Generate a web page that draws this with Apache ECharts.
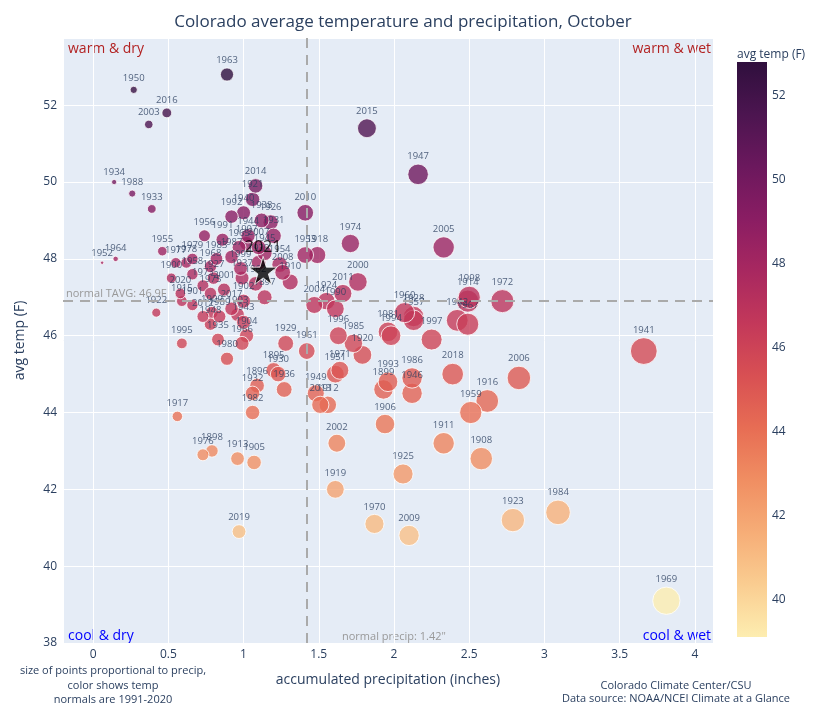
<!DOCTYPE html>
<html>
<head>
<meta charset="utf-8">
<script src="https://cdn.jsdelivr.net/npm/echarts@6/dist/echarts.min.js"></script>
<style>
  html, body { margin: 0; padding: 0; background: #fff; }
  #chart { width: 825px; height: 706px; }
</style>
</head>
<body>
<div id="chart"></div>
<script>
// October, Colorado: year, accumulated precip (in), avg temp (F)
var years = [1895,1896,1897,1898,1899,1900,1901,1902,1903,1904,1905,1906,1907,1908,1909,1910,
  1911,1912,1913,1914,1915,1916,1917,1918,1919,1920,1921,1922,1923,1924,1925,1926,1927,1928,1929,1930,
  1931,1932,1933,1934,1935,1936,1937,1938,1939,1940,1941,1942,1943,1944,1945,1946,1947,1948,1949,1950,
  1951,1952,1953,1954,1955,1956,1957,1958,1959,1960,1961,1962,1963,1964,1965,1966,1967,1968,1969,1970,
  1971,1972,1973,1974,1975,1976,1977,1978,1979,1980,1981,1982,1983,1984,1985,1986,1987,1988,1989,1990,
  1991,1992,1993,1994,1995,1996,1997,1998,1999,2000,2001,2002,2003,2004,2005,2006,2007,2008,2009,2010,
  2011,2012,2013,2014,2015,2016,2017,2018,2019,2020];
var precip = [1.20,1.09,1.14,0.79,1.93,0.52,0.66,1.00,0.96,1.02,1.07,1.94,1.02,2.58,0.79,1.31,
  2.33,1.56,0.96,2.49,0.59,2.62,0.56,1.49,1.61,1.79,1.06,0.42,2.79,1.55,2.06,1.18,0.80,2.13,1.28,1.23,
  1.20,1.06,0.39,0.14,0.83,1.27,0.99,1.12,1.10,1.00,3.66,2.42,1.00,1.03,1.14,2.12,2.16,0.78,1.48,0.27,
  1.61,0.06,1.41,1.24,0.46,0.74,2.13,0.66,2.51,2.07,1.42,1.08,0.89,0.15,0.97,0.99,2.49,0.78,3.81,1.87,
  1.64,2.72,0.73,1.71,0.78,0.73,0.55,0.62,0.66,0.89,1.96,1.06,0.82,3.09,1.73,2.12,0.92,0.26,0.84,1.61,
  0.86,0.92,1.96,1.98,0.59,1.63,2.25,2.50,0.98,1.76,0.87,1.62,0.37,1.47,2.33,2.83,1.10,1.26,2.10,1.41,
  1.66,0.73,1.51,1.08,1.82,0.49,0.92,2.39,0.97,0.58];
var temp = [45.1,44.7,47.0,43.0,44.6,47.5,46.8,46.9,46.55,46.0,42.7,43.7,48.4,42.8,46.6,47.4,
  43.2,44.2,42.8,46.9,46.9,44.3,43.9,48.1,42.0,45.5,49.55,46.6,41.2,46.9,42.4,48.95,47.5,46.5,45.8,45.0,
  48.6,44.5,49.3,50.0,45.9,44.6,47.5,49.0,47.9,49.2,45.6,46.4,46.35,48.6,48.15,44.5,50.2,46.3,44.5,52.4,
  45.0,47.9,48.1,47.85,48.2,48.6,46.4,47.6,44.0,46.6,45.6,47.35,52.8,48.0,48.3,45.8,46.3,47.8,39.1,41.1,
  45.1,46.9,47.3,48.4,47.1,42.9,47.9,47.9,48.0,45.4,46.1,44.0,48.0,41.4,45.8,44.9,48.05,49.7,46.5,46.7,
  48.5,49.1,44.8,46.0,45.8,46.0,45.9,47.0,47.75,47.4,47.2,43.2,51.5,46.8,48.3,44.9,48.3,47.65,40.8,49.2,
  47.1,46.5,44.2,49.9,51.4,51.8,46.7,45.0,40.9,47.1];

var currentYear = '2021';
var currentPrecip = 1.13;
var currentTemp = 47.7;

var normalPrecip = 1.42;
var normalTemp = 46.9;

var colorTicks = [40, 42, 44, 46, 48, 50, 52];
var matter = ['rgb(253,237,176)','rgb(250,205,145)','rgb(246,173,119)','rgb(240,142,98)',
  'rgb(231,109,84)','rgb(216,80,83)','rgb(195,56,90)','rgb(168,40,96)','rgb(138,29,99)',
  'rgb(107,24,93)','rgb(76,21,80)','rgb(47,15,61)'];

var points = years.map(function (y, i) { return [precip[i], temp[i], String(y)]; });
var tMin = Math.min.apply(null, temp);
var tMax = Math.max.apply(null, temp);

// colour bar gradient, dark at the top
var barStops = matter.slice().reverse().map(function (c, i, a) {
  return { offset: i / (a.length - 1), color: c };
});

var font = '"Open Sans", "DejaVu Sans", sans-serif';
var ink = '#2a3f5f';

var chart = echarts.init(document.getElementById('chart'));
var option = {
  backgroundColor: '#fff',
  animation: false,
  textStyle: { fontFamily: font },
  title: {
    text: 'Colorado average temperature and precipitation, October',
    left: 398, top: 9, textAlign: 'center',
    textStyle: { fontSize: 17, fontWeight: 'normal', color: ink, fontFamily: font }
  },
  grid: [
    { left: 63, right: 112, top: 38, bottom: 63, show: true, backgroundColor: '#e5ecf6', borderWidth: 0 },
    { left: 737, width: 30, top: 62, height: 575, show: false }
  ],
  xAxis: [{
    type: 'value', min: -0.2, max: 4.12, splitNumber: 9,
    name: 'accumulated precipitation (inches)', nameLocation: 'middle', nameGap: 30,
    nameTextStyle: { fontSize: 14, color: ink },
    axisLine: { show: false }, axisTick: { show: false },
    axisLabel: { color: ink, fontSize: 12, margin: 6, showMinLabel: false, showMaxLabel: false },
    splitLine: { lineStyle: { color: '#fff', width: 1 } }
  }, {
    gridIndex: 1, type: 'value', show: false
  }],
  yAxis: [{
    type: 'value', min: 38, max: 53.75, interval: 2,
    name: 'avg temp (F)', nameLocation: 'middle', nameGap: 36,
    nameTextStyle: { fontSize: 14, color: ink },
    axisLine: { show: false }, axisTick: { show: false },
    axisLabel: { color: ink, fontSize: 12, margin: 6, showMaxLabel: false },
    splitLine: { lineStyle: { color: '#fff', width: 1 } }
  }, {
    gridIndex: 1, type: 'value', min: tMin, max: tMax, position: 'right',
    axisLine: { show: false }, axisTick: { show: false }, splitLine: { show: false },
    axisLabel: { color: ink, fontSize: 12, margin: 5, customValues: colorTicks }
  }],
  visualMap: {
    type: 'continuous', seriesIndex: 0, dimension: 1, show: false,
    min: tMin, max: tMax,
    inRange: { color: matter }
  },
  series: [{
    type: 'scatter',
    data: points,
    symbolSize: function (d) { return 14 * Math.sqrt(d[0]); },
    itemStyle: { opacity: 0.8, borderColor: '#fff', borderWidth: 1 },
    label: {
      show: true, position: 'top', distance: 2,
      formatter: function (p) { return p.data[2]; },
      color: ink, fontSize: 9.5, fontFamily: font
    },
    markLine: {
      silent: true, symbol: 'none',
      lineStyle: { color: '#aaa', type: [10, 7], width: 2 },
      label: { show: false },
      data: [
        { xAxis: normalPrecip },
        { yAxis: normalTemp, label: { show: true, position: 'insideStartTop', formatter: 'normal TAVG: 46.9F',
          color: '#999', fontSize: 11, distance: [3, 2] } }
      ]
    }
  }, {
    type: 'scatter',
    data: [[currentPrecip, currentTemp, currentYear]],
    symbol: 'path://M50,0 L61,35 L98,35 L68,57 L79,91 L50,70 L21,91 L32,57 L2,35 L39,35 Z',
    symbolSize: 28,
    itemStyle: { color: '#000', borderColor: '#fff', borderWidth: 1 },
    label: {
      show: true, position: 'top', distance: 0,
      formatter: function (p) { return p.data[2]; },
      color: '#000', fontSize: 16, fontFamily: font
    },
    z: 5
  }],
  graphic: [
    { type: 'rect', x: 737, y: 62, shape: { width: 30, height: 575 },
      style: { fill: new echarts.graphic.LinearGradient(0, 0, 0, 1, barStops) } },
    { type: 'text', left: 68, top: 42, style: { text: 'warm & dry', fill: '#b22222', fontSize: 14, fontFamily: font } },
    { type: 'text', right: 114, top: 42, style: { text: 'warm & wet', fill: '#b22222', fontSize: 14, fontFamily: font } },
    { type: 'text', left: 68, top: 629, style: { text: 'cool & dry', fill: '#0000ff', fontSize: 14, fontFamily: font } },
    { type: 'text', right: 114, top: 629, style: { text: 'cool & wet', fill: '#0000ff', fontSize: 14, fontFamily: font } },
    { type: 'text', left: 342, top: 631, style: { text: 'normal precip: 1.42"', fill: '#999', fontSize: 11, fontFamily: font } },
    { type: 'text', x: 737, y: 49, style: { text: 'avg temp (F)', fill: ink, fontSize: 12, fontFamily: font } },
    { type: 'text', x: 113, y: 664, style: { text: 'size of points proportional to precip,\ncolor shows temp\nnormals are 1991-2020',
      fill: ink, fontSize: 11, lineHeight: 14.5, align: 'center', fontFamily: font } },
    { type: 'text', x: 676, y: 679, style: { text: 'Colorado Climate Center/CSU\nData source: NOAA/NCEI Climate at a Glance',
      fill: ink, fontSize: 11, lineHeight: 13.5, align: 'center', fontFamily: font } }
  ]
};
chart.setOption(option);
</script>
</body>
</html>
